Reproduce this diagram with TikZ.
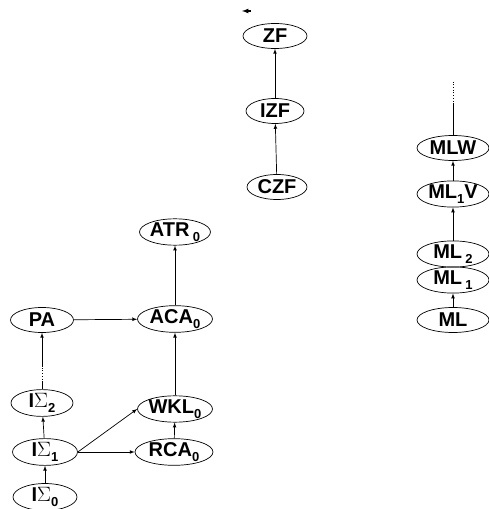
\documentclass[tikz,border=0pt]{standalone}
\usepackage{fontspec}
\setmainfont{Liberation Sans}
\usetikzlibrary{shapes.geometric}
\newcommand{\lowsub}[1]{\raisebox{-0.45ex}{\fontsize{13}{13}\selectfont #1}}
\begin{document}
\begin{tikzpicture}[x=1pt,y=1pt,>=latex,line width=0.7pt]
        \tikzstyle{theory}=[ellipse,draw=black,inner sep=0pt,minimum height=25pt,font=\fontsize{20}{20}\selectfont\bfseries]
        \tikzstyle{edge}=[draw=black,->]

        \useasboundingbox (0,0) rectangle (489,509);

        % set theories
        \node [theory,minimum width=64pt] (zf) at (275,473) {ZF};
        \node [theory,minimum width=58pt] (izf) at (275,398) {IZF};
        \node [theory,minimum width=60pt] (czf) at (277,322) {CZF};
        \coordinate (tipa) at (251,498);
        \coordinate (tipb) at (242,498);

        % type theories
        \node [theory,minimum width=72pt] (mlw) at (453,361) {MLW};
        \node [theory,minimum width=72pt] (mlv) at (453,315) {ML\lowsub{1}V};
        \node [theory,minimum width=72pt] (mltwo) at (453,255) {ML\,\lowsub{2}};
        \node [theory,minimum width=72pt] (mlone) at (453,229) {ML\,\lowsub{1}};
        \node [theory,minimum width=72pt] (ml) at (453,189) {ML};
        \coordinate (mltop) at (453,405);
        \coordinate (mldots) at (453,429);

        % arithmetic
        \node [theory,minimum width=64pt] (atr) at (175,277) {ATR\,\lowsub{0}};
        \node [theory,minimum width=63pt] (pa) at (42,189) {PA};
        \node [theory,minimum width=75pt] (aca) at (175,190) {ACA\lowsub{0}};
        \node [theory,minimum width=62pt] (isig2) at (42,106) {I$\Sigma$\lowsub{2}};
        \node [theory,minimum width=75pt] (wkl) at (175,100) {WKL\lowsub{0}};
        \node [theory,minimum width=65pt] (isig1) at (45,57) {I$\Sigma$\lowsub{1}};
        \node [theory,minimum width=78pt] (rca) at (174,57) {RCA\lowsub{0}};
        \node [theory,minimum width=64pt] (isig0) at (45,12) {I$\Sigma$\lowsub{0}};
        \coordinate (pagap1) at (42,127);
        \coordinate (pagap2) at (42,142);

        \draw[->,line width=1.2pt] (tipa) -- (tipb);
        \path[edge] (czf) edge (izf);
        \path[edge] (izf) edge (zf);

        \path[edge] (ml) edge (mlone);
        \path[edge] (mltwo) edge (mlv);
        \path[edge] (mlv) edge (mlw);
        \draw (mlw) -- (mltop);
        \draw[dotted] (mltop) -- (mldots);

        \path[edge] (isig0) edge (isig1);
        \path[edge] (isig1) edge (isig2);
        \draw (isig2) -- (pagap1);
        \draw[dotted] (pagap1) -- (pagap2);
        \draw[->] (pagap2) -- (pa);
        \draw[->] (isig1.east) -- (wkl.west);
        \draw[->] (isig1.east) -- (rca.west);
        \path[edge] (rca) edge (wkl);
        \path[edge] (wkl) edge (aca);
        \path[edge] (pa) edge (aca);
        \path[edge] (aca) edge (atr);
      \end{tikzpicture}
\end{document}
